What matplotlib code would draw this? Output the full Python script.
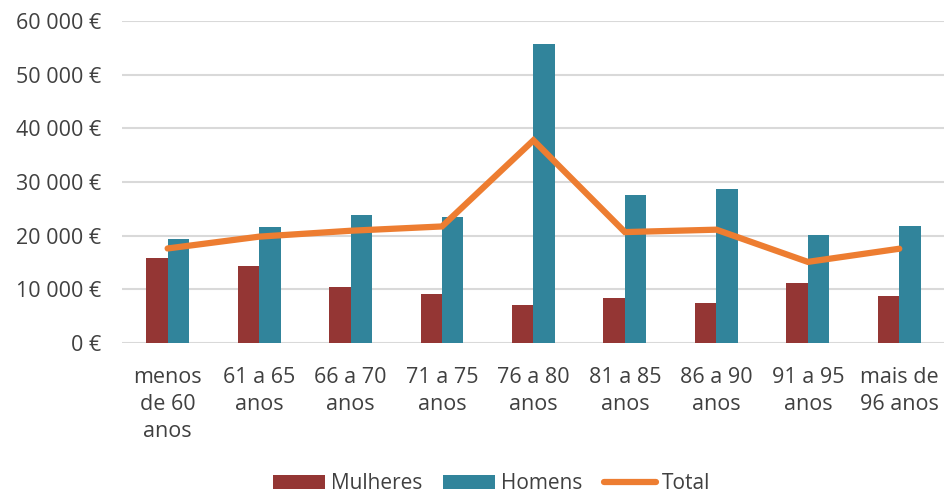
import matplotlib
matplotlib.use("Agg")
import matplotlib.pyplot as plt
import numpy as np
from matplotlib.ticker import FuncFormatter

categories = ["menos\nde 60\nanos", "61 a 65\nanos", "66 a 70\nanos", "71 a 75\nanos",
              "76 a 80\nanos", "81 a 85\nanos", "86 a 90\nanos", "91 a 95\nanos",
              "mais de\n96 anos"]
mulheres = [15900, 14400, 10400, 9100, 7150, 8450, 7500, 11250, 8800]
homens = [19400, 21650, 23900, 23550, 55700, 27650, 28600, 20100, 21850]
total = [17600, 19800, 20900, 21700, 37750, 20650, 21100, 15100, 17550]

plt.rcParams['font.family'] = ['Open Sans', 'DejaVu Sans']
text_color = "#404040"
fs = 15.5

fig = plt.figure(figsize=(9.45, 4.97), dpi=100)
ax = fig.add_axes([0.129, 0.31, 0.871, 0.648])

x = np.arange(len(categories))
w = 0.235
b1 = ax.bar(x - w / 2, mulheres, width=w, color="#943634", label="Mulheres", zorder=2)
b2 = ax.bar(x + w / 2, homens, width=w, color="#31849B", label="Homens", zorder=2)
l1, = ax.plot(x, total, color="#ED7D31", linewidth=4.5, solid_capstyle="round",
              solid_joinstyle="miter", label="Total", zorder=3)

ax.set_xlim(-0.5, len(categories) - 0.5)
ax.set_ylim(0, 60000)
ax.set_yticks(np.arange(0, 60001, 10000))
ax.yaxis.set_major_formatter(FuncFormatter(
    lambda v, p: f"{int(v):,} €".replace(",", " ")))
ax.grid(axis="y", color="#D9D9D9", linewidth=1.5, zorder=0)
ax.set_axisbelow(True)
for s in ax.spines.values():
    s.set_visible(False)
ax.tick_params(axis="both", length=0, labelsize=fs, colors=text_color)
ax.tick_params(axis="y", pad=15)
ax.tick_params(axis="x", pad=17)
ax.set_xticks(x)
ax.set_xticklabels(categories, linespacing=1.4)

leg = fig.legend([b1, b2, l1], ["Mulheres", "Homens", "Total"],
                 loc="lower center", bbox_to_anchor=(0.52, -0.032), ncol=3,
                 frameon=False, fontsize=15, handlelength=2.5, handleheight=0.7,
                 columnspacing=1.0, handletextpad=0.3)
for t in leg.get_texts():
    t.set_color(text_color)

fig.savefig("out.png", dpi=100)
